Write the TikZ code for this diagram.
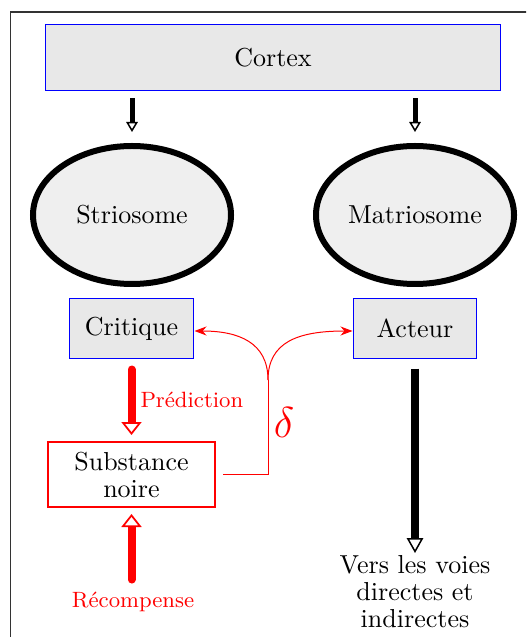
\documentclass[tikz,border=0pt]{standalone}
\usetikzlibrary{arrows.meta,shapes.geometric}
\definecolor{boxfill}{HTML}{E8E8E8}
\definecolor{ellfill}{HTML}{EFEFEF}
\begin{document}
\begin{tikzpicture}[x=0.4pt,y=-0.4pt,
  every node/.style={font=\fontsize{10.4}{10.8}\selectfont},
  bluebox/.style={rectangle, draw=blue, line width=0.45pt, fill=boxfill, inner sep=0pt, outer sep=0pt},
  ell/.style={ellipse, draw=black, line width=2.4pt, fill=ellfill, minimum width=79.2pt, minimum height=55.2pt, inner sep=0pt},
  redbox/.style={rectangle, draw=red, line width=0.8pt, fill=white, align=center, minimum width=66.8pt, minimum height=26pt, inner sep=0pt},
  smallred/.style={text=red, font=\fontsize{8.85}{10}\selectfont, inner sep=0pt},
  cortexarrow/.style={draw=black, line width=2pt, -{Triangle[fill=white, length=4pt, width=4.6pt, line width=0.6pt]}},
  bigarrow/.style={draw=black, line width=3.2pt, -{Triangle[fill=white, length=6pt, width=6.6pt, line width=0.6pt]}},
  redarrow/.style={draw=red, line width=3.2pt, line cap=round, -{Triangle[fill=white, length=5.2pt, width=8pt, line width=0.7pt]}},
  deltaline/.style={draw=red, line width=0.4pt},
  deltaarrow/.style={draw=red, line width=0.4pt, -{Stealth[length=4.8pt, width=3.6pt]}}
]
\useasboundingbox (0,0) rectangle (526,637);
\clip (0,0) rectangle (526,637);
\draw[black!80, line width=0.5pt] (10.5,12) rectangle (700,800);

\node[bluebox, minimum width=182pt, minimum height=26.4pt] (cortex) at (273,57.5) {Cortex};
\node[ell] (stri) at (132,215) {Striosome};
\node[ell] (matri) at (415,215) {Matriosome};
\node[bluebox, minimum width=49.6pt, minimum height=24pt] (critique) at (131.5,328.5) {Critique};
\node[bluebox, minimum width=49.2pt, minimum height=24pt] (acteur) at (415,328.5) {Acteur};
\node[redbox] (sn) at (131.5,474.5) {Substance\\noire};
\node[smallred, anchor=base west] (pred) at (140,407) {Prédiction};
\node[smallred, anchor=base, inner sep=3pt] (rec) at (133,607) {Récompense};
\node[align=center, anchor=north, inner sep=0pt] (vers) at (415,555) {Vers les voies\\directes et\\indirectes};
\node[text=red, font=\fontsize{17}{20}\selectfont, inner sep=0pt] (delta) at (284,422) {$\delta$};
\coordinate (j) at (268,380);

\draw[cortexarrow, shorten <=3.2pt, shorten >=4.4pt] (stri.north |- cortex.south) -- (stri.north);
\draw[cortexarrow, shorten <=3.2pt, shorten >=4.4pt] (matri.north |- cortex.south) -- (matri.north);
\draw[redarrow, shorten <=4.4pt, shorten >=2.4pt] (critique.south) -- (critique.south |- sn.north);
\draw[redarrow, shorten <=1.6pt, shorten >=2.4pt] (rec.north -| sn.south) -- (sn.south);
\draw[bigarrow, shorten <=4pt, shorten >=0.8pt] (acteur.south) -- (acteur.south |- vers.north);
\draw[deltaline, shorten <=2.8pt] (sn.east) -| (j);
\draw[deltaarrow, shorten >=0.4pt] (j) .. controls (268,342) and (238,331) .. ([yshift=-1pt]critique.east);
\draw[deltaarrow, shorten >=0.4pt] (j) .. controls (268,342) and (298,331) .. ([yshift=-1pt]acteur.west);
\end{tikzpicture}
\end{document}
